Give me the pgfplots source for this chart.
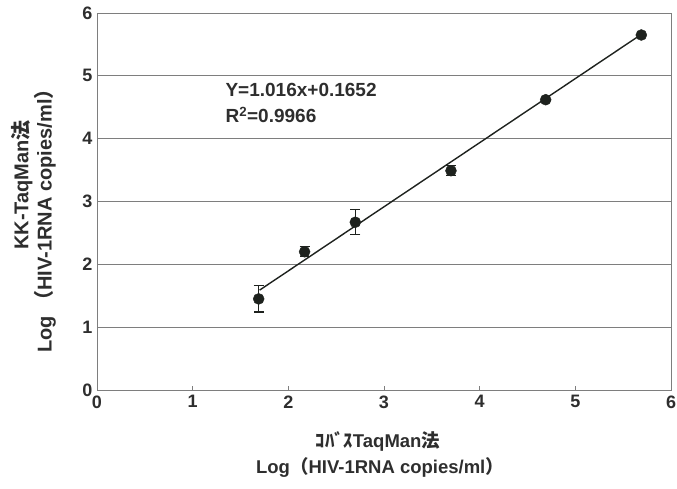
\documentclass[border=0pt]{standalone}
\usepackage{fontspec}
\setmainfont{Liberation Sans}
\newfontfamily\cjk{Noto Sans CJK JP}
\usepackage{pgfplots}
\pgfplotsset{compat=1.18}
\definecolor{txt}{HTML}{2E2E2E}
\definecolor{frm}{HTML}{7E7E7E}
\definecolor{pt}{HTML}{1E221E}
\begin{document}
\begin{tikzpicture}[x=1pt,y=1pt]
\useasboundingbox (-97,-98) rectangle (580,390);
\begin{axis}[
  at={(0,0)}, anchor=south west,
  scale only axis, width=574pt, height=377pt,
  xmin=0, xmax=6, ymin=0, ymax=6,
  xtick={0,1,2,3,4,5,6}, ytick={0,1,2,3,4,5,6},
  ymajorgrids, grid style={frm, line width=1pt},
  axis line style={frm, line width=1pt},
  xtick pos=bottom, ytick pos=left, tick align=inside,
  major tick length=4pt,
  xtick style={frm, line width=1pt},
  ytick style={draw=none},
  /pgf/number format/assume math mode=true,
  tick label style={font=\fontsize{18}{20}\selectfont\bfseries, text=txt},
  xticklabel style={yshift=-2pt},
  yticklabel style={xshift=-1pt},
  clip=false,
]
\addplot[pt, line width=1.4pt] coordinates {(1.70,1.59) (5.68,5.65)};
\addplot[only marks, mark=*, mark size=5.5pt, color=pt,
  error bars/.cd, y dir=both, y explicit,
  error bar style={line width=1.2pt, pt},
  error mark options={rotate=90, mark size=5pt, line width=1.2pt, pt}]
  coordinates {
  (1.69,1.45) +- (0,0.21)
  (2.17,2.20) +- (0,0.08)
  (2.70,2.67) +- (0,0.20)
  (3.70,3.49) +- (0,0.08)
};
\addplot[only marks, mark=*, mark size=5.5pt, color=pt]
  coordinates {
  (4.69,4.62)
  (5.69,5.65)
};
\end{axis}
\node[anchor=west, font=\fontsize{19}{21}\selectfont\bfseries, text=txt] at (125,300) {Y=1.016x+0.1652};
\node[anchor=west, font=\fontsize{19}{21}\selectfont\bfseries, text=txt] at (125,275) {R\textsuperscript{2}=0.9966};
\node[rotate=90, font=\fontsize{20}{22}\selectfont\bfseries, text=txt] at (-75,205) {KK-TaqMan{\cjk 法}};
\node[rotate=90, font=\fontsize{20}{22}\selectfont\bfseries, text=txt] at (-52,174) {Log {\cjk （}HIV-1RNA copies/ml{\cjk ）}};
\node[font=\fontsize{18.5}{20}\selectfont\bfseries, text=txt] at (281,-51) {{\cjk ｺﾊﾞｽ}TaqMan{\cjk 法}};
\node[font=\fontsize{18.5}{20}\selectfont\bfseries, text=txt] at (283,-77) {Log{\cjk （}HIV-1RNA copies/ml{\cjk ）}};
\end{tikzpicture}
\end{document}
